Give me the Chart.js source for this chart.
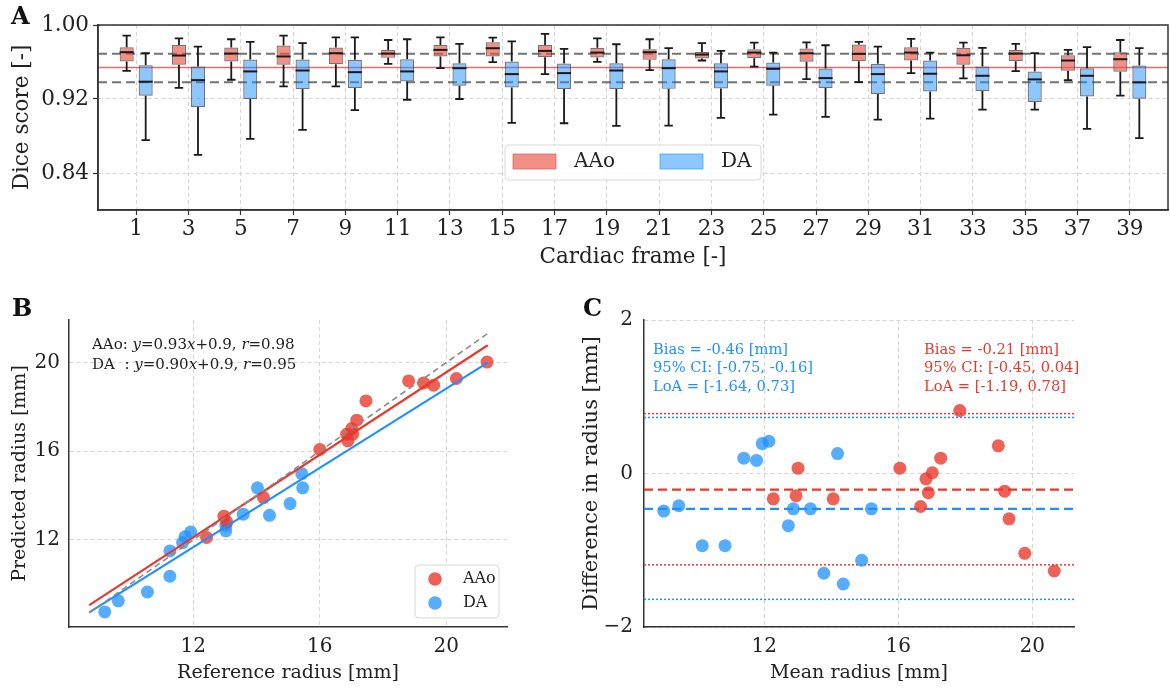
<!DOCTYPE html>
<html>
<head>
<meta charset="utf-8">
<title>Segmentation accuracy</title>
<script src="https://cdn.jsdelivr.net/npm/chart.js@4.4.1/dist/chart.umd.min.js"></script>
<style>
    body { margin: 0; background: #fff; width: 1170px; height: 688px; position: relative; overflow: hidden; }
    .panel { position: absolute; }
</style>
</head>
<body>
<div class="panel" style="left:0;top:0;width:1170px;height:275px"><canvas id="boxChart"></canvas></div>
<div class="panel" style="left:0;top:285px;width:575px;height:403px"><canvas id="regChart"></canvas></div>
<div class="panel" style="left:575px;top:285px;width:595px;height:403px"><canvas id="baChart"></canvas></div>

<script>
// ---- data: panel A (Dice per cardiac frame) ----
const frameLabels = ['1', '3', '5', '7', '9', '11', '13', '15', '17', '19',
    '21', '23', '25', '27', '29', '31', '33', '35', '37', '39'];

const aaoHigh = [0.9885, 0.9856, 0.9846, 0.9885, 0.9867, 0.9838, 0.9867, 0.9863, 0.9903, 0.9856,
    0.9846, 0.9803, 0.9810, 0.9813, 0.9817, 0.9849, 0.9810, 0.9796, 0.9731, 0.9838];
const aaoQ3 = [0.9760, 0.9785, 0.9756, 0.9778, 0.9756, 0.9731, 0.9785, 0.9813, 0.9785, 0.9753,
    0.9738, 0.9709, 0.9738, 0.9745, 0.9788, 0.9760, 0.9753, 0.9731, 0.9673, 0.9706];
const aaoMed = [0.9706, 0.9670, 0.9691, 0.9660, 0.9695, 0.9691, 0.9731, 0.9749, 0.9720, 0.9702,
    0.9706, 0.9680, 0.9702, 0.9695, 0.9688, 0.9702, 0.9673, 0.9691, 0.9616, 0.9630];
const aaoQ1 = [0.9605, 0.9570, 0.9605, 0.9570, 0.9577, 0.9645, 0.9659, 0.9659, 0.9652, 0.9648,
    0.9623, 0.9638, 0.9641, 0.9602, 0.9609, 0.9616, 0.9570, 0.9609, 0.9505, 0.9494];
const aaoLow = [0.9505, 0.9320, 0.9408, 0.9336, 0.9336, 0.9580, 0.9534, 0.9598, 0.9469, 0.9602,
    0.9512, 0.9616, 0.9551, 0.9415, 0.9383, 0.9480, 0.9422, 0.9501, 0.9404, 0.9236];

const daHigh = [0.9695, 0.9767, 0.9817, 0.9803, 0.9867, 0.9846, 0.9796, 0.9824, 0.9742, 0.9792,
    0.9749, 0.9720, 0.9702, 0.9781, 0.9767, 0.9702, 0.9753, 0.9695, 0.9760, 0.9749];
const daQ3 = [0.9566, 0.9551, 0.9627, 0.9627, 0.9623, 0.9630, 0.9587, 0.9605, 0.9584, 0.9587,
    0.9630, 0.9587, 0.9594, 0.9530, 0.9580, 0.9616, 0.9551, 0.9498, 0.9533, 0.9562];
const daMed = [0.9387, 0.9404, 0.9498, 0.9508, 0.9490, 0.9498, 0.9533, 0.9469, 0.9480, 0.9508,
    0.9533, 0.9498, 0.9526, 0.9426, 0.9469, 0.9473, 0.9451, 0.9412, 0.9451, 0.9380];
const daQ1 = [0.9236, 0.9113, 0.9200, 0.9307, 0.9320, 0.9390, 0.9343, 0.9325, 0.9307, 0.9307,
    0.9310, 0.9314, 0.9343, 0.9320, 0.9254, 0.9282, 0.9286, 0.9168, 0.9228, 0.9203];
const daLow = [0.8755, 0.8597, 0.8770, 0.8866, 0.9080, 0.9192, 0.9200, 0.8941, 0.8938, 0.8910,
    0.8912, 0.8995, 0.9031, 0.9006, 0.8977, 0.8988, 0.9085, 0.9085, 0.8877, 0.8776];

const diceUpperRef = 0.969;
const diceMidRef = 0.954;
const diceLowerRef = 0.938;
const diceTicks = [0.84, 0.92, 1.00];

// ---- data: panel B (predicted vs reference radius) ----
const aaoRef = [12.42, 12.97, 13.06, 14.22, 16.00, 16.85, 16.89, 17.01, 17.04, 17.17, 17.46, 18.81, 19.28, 19.60, 20.32, 21.29];
const aaoPred = [12.11, 13.07, 12.81, 13.91, 16.08, 16.77, 16.47, 17.02, 16.77, 17.40, 18.27, 19.17, 19.08, 18.98, 19.28, 20.02];
const daRef = [9.20, 9.63, 10.55, 11.26, 11.26, 11.66, 11.74, 11.92, 13.03, 13.03, 13.58, 14.03, 14.41, 15.06, 15.43, 15.46];
const daPred = [8.75, 9.25, 9.65, 10.36, 11.50, 11.88, 12.14, 12.36, 12.66, 12.41, 13.16, 14.35, 13.11, 13.64, 14.99, 14.35];

const fitX = [8.71, 21.31];
const aaoFitY = [9.06, 20.78];
const daFitY = [8.73, 20.00];
const identityY = [8.71, 21.31];
const radiusTicks = [12, 16, 20];

// ---- data: panel C (Bland-Altman) ----
const aaoMean = [13.01, 12.27, 12.95, 14.06, 16.05, 16.67, 16.83, 16.90, 17.02, 17.27, 17.84, 18.99, 19.18, 19.31, 19.78, 20.66];
const aaoDiff = [0.07, -0.33, -0.29, -0.33, 0.07, -0.43, -0.07, -0.25, 0.01, 0.20, 0.82, 0.36, -0.23, -0.59, -1.04, -1.27];
const daMean = [9.00, 9.45, 10.15, 10.83, 11.39, 11.77, 11.94, 12.14, 12.72, 12.87, 13.38, 14.19, 13.78, 14.36, 14.91, 15.20];
const daDiff = [-0.49, -0.42, -0.94, -0.94, 0.20, 0.17, 0.39, 0.42, -0.68, -0.46, -0.46, 0.26, -1.30, -1.44, -1.13, -0.46];

const aaoBias = -0.21, aaoLoA = [-1.19, 0.78];
const daBias = -0.46, daLoA = [-1.64, 0.73];
const diffTicks = [-2, 0, 2];

// ---- styling ----
const FONT = "'DejaVu Serif', serif";
const RED = '#e8392d';
const BLUE = '#1e90ff';
const RED_PT = 'rgba(232, 57, 45, 0.8)';
const BLUE_PT = 'rgba(30, 144, 255, 0.75)';
const AAO_BOX = 'rgba(235, 85, 72, 0.65)';
const DA_BOX = 'rgba(30, 144, 255, 0.5)';
const GRID = '#d4d4d4';
const SPINE = '#333';
const SIZE_A = 21.5;
const SIZE_BC = 19;
const NOTE_SIZE = 14.7;

Chart.defaults.font.family = FONT;
Chart.defaults.font.size = 20;
Chart.defaults.color = '#222';
Chart.defaults.animation = false;

function fixedTicks(values) {
    return scale => { scale.ticks = values.map(v => ({ value: v })); };
}

function hline(y, x0, x1) {
    return [{ x: x0, y: y }, { x: x1, y: y }];
}

function points(xs, ys) {
    return xs.map((x, i) => ({ x: x, y: ys[i] }));
}

const panelLabel = {
    id: 'panelLabel',
    afterDraw(chart, args, opts) {
        const ctx = chart.ctx;
        ctx.save();
        ctx.font = 'bold 24px ' + FONT;
        ctx.fillStyle = '#111';
        ctx.fillText(opts.text, opts.x, opts.y);
        ctx.restore();
    }
};

// whiskers, caps and medians on top of the floating bars
const boxWhiskers = {
    id: 'boxWhiskers',
    afterDatasetsDraw(chart) {
        const ctx = chart.ctx;
        const yScale = chart.scales.y;
        ctx.save();
        ctx.strokeStyle = '#1a1a1a';
        chart.data.datasets.forEach((ds, di) => {
            if (!ds.whiskers) return;
            const w = ds.whiskers;
            chart.getDatasetMeta(di).data.forEach((bar, i) => {
                const half = bar.width / 2;
                const cap = bar.width * 0.3;
                const yLo = yScale.getPixelForValue(w.low[i]);
                const yHi = yScale.getPixelForValue(w.high[i]);
                const yQ1 = yScale.getPixelForValue(w.q1[i]);
                const yQ3 = yScale.getPixelForValue(w.q3[i]);
                const yMed = yScale.getPixelForValue(w.med[i]);
                ctx.lineWidth = 1.8;
                ctx.beginPath();
                ctx.moveTo(bar.x, yQ1); ctx.lineTo(bar.x, yLo);
                ctx.moveTo(bar.x, yQ3); ctx.lineTo(bar.x, yHi);
                ctx.moveTo(bar.x - cap, yLo); ctx.lineTo(bar.x + cap, yLo);
                ctx.moveTo(bar.x - cap, yHi); ctx.lineTo(bar.x + cap, yHi);
                ctx.stroke();
                ctx.lineWidth = 2;
                ctx.beginPath();
                ctx.moveTo(bar.x - half, yMed); ctx.lineTo(bar.x + half, yMed);
                ctx.stroke();
            });
        });
        ctx.restore();
    }
};

const boxFrameLegend = {
    id: 'boxFrameLegend',
    afterDraw(chart) {
        const { ctx, chartArea: a } = chart;
        ctx.save();
        ctx.strokeStyle = SPINE;
        ctx.lineWidth = 1.5;
        ctx.strokeRect(a.left, a.top, a.right - a.left, a.bottom - a.top);

        const w = 256, h = 35;
        const x0 = (a.left + a.right) / 2 - w / 2;
        const y0 = a.bottom - 30 - h;
        ctx.beginPath();
        ctx.roundRect(x0, y0, w, h, 4);
        ctx.fillStyle = 'rgba(255,255,255,0.85)';
        ctx.fill();
        ctx.strokeStyle = '#d8d8d8';
        ctx.lineWidth = 1;
        ctx.stroke();

        const entries = [['AAo', AAO_BOX, 'rgba(220,70,60,0.6)', 8], ['DA', DA_BOX, 'rgba(30,144,255,0.6)', 155]];
        ctx.font = '20px ' + FONT;
        ctx.textBaseline = 'middle';
        entries.forEach(([label, fill, edge, dx]) => {
            ctx.fillStyle = fill;
            ctx.fillRect(x0 + dx, y0 + 9, 43, 15);
            ctx.strokeStyle = edge;
            ctx.strokeRect(x0 + dx, y0 + 9, 43, 15);
            ctx.fillStyle = '#222';
            ctx.fillText(label, x0 + dx + 61, y0 + 17);
        });
        ctx.restore();
    }
};

function drawRich(ctx, parts, x, y, size) {
    parts.forEach(([txt, italic]) => {
        ctx.font = (italic ? 'italic ' : '') + size + 'px ' + FONT;
        ctx.fillText(txt, x, y);
        x += ctx.measureText(txt).width;
    });
}

const regNotes = {
    id: 'regNotes',
    afterDraw(chart) {
        const ctx = chart.ctx;
        ctx.save();
        ctx.fillStyle = '#222';
        drawRich(ctx, [['AAo: ', false], ['y', true], ['=0.93', false], ['x', true],
            ['+0.9, ', false], ['r', true], ['=0.98', false]], 92, 64, 15);
        drawRich(ctx, [['DA  : ', false], ['y', true], ['=0.90', false], ['x', true],
            ['+0.9, ', false], ['r', true], ['=0.95', false]], 92, 84, 15);

        // legend box lower right
        ctx.beginPath();
        ctx.roundRect(415, 280, 84, 53, 4);
        ctx.fillStyle = 'rgba(255,255,255,0.85)';
        ctx.fill();
        ctx.strokeStyle = '#d8d8d8';
        ctx.lineWidth = 1;
        ctx.stroke();
        ctx.font = '16px ' + FONT;
        ctx.textBaseline = 'middle';
        [['AAo', RED_PT, 294], ['DA', BLUE_PT, 318]].forEach(([label, color, cy]) => {
            ctx.beginPath();
            ctx.arc(435, cy, 6.8, 0, Math.PI * 2);
            ctx.fillStyle = color;
            ctx.fill();
            ctx.fillStyle = '#222';
            ctx.fillText(label, 463, cy);
        });
        ctx.restore();
    }
};

const baNotes = {
    id: 'baNotes',
    afterDraw(chart) {
        const ctx = chart.ctx;
        ctx.save();
        ctx.font = NOTE_SIZE + 'px ' + FONT;
        const blueLines = ['Bias = -0.46 [mm]', '95% CI: [-0.75, -0.16]', 'LoA = [-1.64, 0.73]'];
        const redLines = ['Bias = -0.21 [mm]', '95% CI: [-0.45, 0.04]', 'LoA = [-1.19, 0.78]'];
        ctx.fillStyle = BLUE;
        blueLines.forEach((t, i) => ctx.fillText(t, 78, 69 + i * 18.3));
        ctx.fillStyle = RED;
        redLines.forEach((t, i) => ctx.fillText(t, 349, 69 + i * 18.3));
        ctx.restore();
    }
};

// ---- panel A ----
const frameMin = -0.73, frameMax = frameLabels.length - 1 + 0.73;
const fontA = { size: SIZE_A };

new Chart(document.getElementById('boxChart'), {
    type: 'bar',
    data: {
        datasets: [
            {
                label: 'AAo',
                data: frameLabels.map((_, i) => ({ x: i, y: [aaoQ1[i], aaoQ3[i]] })),
                whiskers: { low: aaoLow, q1: aaoQ1, med: aaoMed, q3: aaoQ3, high: aaoHigh },
                backgroundColor: AAO_BOX,
                borderColor: 'rgba(70,70,70,0.75)',
                borderWidth: 1.2,
                borderSkipped: false,
                categoryPercentage: 0.727,
                barPercentage: 0.74,
                order: 1
            },
            {
                label: 'DA',
                data: frameLabels.map((_, i) => ({ x: i, y: [daQ1[i], daQ3[i]] })),
                whiskers: { low: daLow, q1: daQ1, med: daMed, q3: daQ3, high: daHigh },
                backgroundColor: DA_BOX,
                borderColor: 'rgba(70,70,70,0.75)',
                borderWidth: 1.2,
                borderSkipped: false,
                categoryPercentage: 0.727,
                barPercentage: 0.74,
                order: 1
            },
            {
                type: 'line', data: hline(diceMidRef, frameMin, frameMax),
                borderColor: 'rgba(214,60,60,0.75)', borderWidth: 1.6, pointRadius: 0, order: 2
            },
            {
                type: 'line', data: hline(diceUpperRef, frameMin, frameMax),
                borderColor: 'rgba(80,80,80,0.8)', borderWidth: 2, borderDash: [9, 5], pointRadius: 0, order: 2
            },
            {
                type: 'line', data: hline(diceLowerRef, frameMin, frameMax),
                borderColor: 'rgba(80,80,80,0.8)', borderWidth: 2, borderDash: [9, 5], pointRadius: 0, order: 2
            }
        ]
    },
    options: {
        responsive: true,
        maintainAspectRatio: false,
        layout: { padding: { top: 25, right: 2, left: 0, bottom: 0 } },
        plugins: {
            legend: { display: false },
            tooltip: { enabled: false },
            panelLabel: { text: 'A', x: 11, y: 24 }
        },
        scales: {
            x: {
                type: 'linear',
                offset: false,
                min: frameMin,
                max: frameMax,
                afterBuildTicks: fixedTicks(frameLabels.map((_, i) => i)),
                afterFit: s => { s.height = 65; },
                ticks: { callback: v => frameLabels[v], autoSkip: false, maxRotation: 0, padding: 2, font: fontA },
                grid: { offset: false, color: GRID, lineWidth: 1, tickColor: SPINE, tickLength: 5, tickWidth: 1.2, tickBorderDash: [] },
                border: { color: SPINE, width: 1.5, dash: [4, 3] },
                title: { display: true, text: 'Cardiac frame [-]', font: fontA, padding: { top: 0, bottom: 5 } }
            },
            y: {
                min: 0.80,
                max: 1.00,
                afterBuildTicks: fixedTicks(diceTicks),
                afterFit: s => { s.width = 98; },
                ticks: { callback: v => v.toFixed(2), padding: 4, font: fontA },
                grid: { color: GRID, lineWidth: 1, tickColor: SPINE, tickLength: 5, tickWidth: 1.2, tickBorderDash: [] },
                border: { color: SPINE, width: 1.5, dash: [4, 3] },
                title: { display: true, text: 'Dice score [-]', font: fontA, padding: { top: 10, bottom: 0 } }
            }
        }
    },
    plugins: [boxWhiskers, boxFrameLegend, panelLabel]
});

// ---- panel B ----
const titleBC = { size: SIZE_BC };

new Chart(document.getElementById('regChart'), {
    type: 'scatter',
    data: {
        datasets: [
            { label: 'AAo', data: points(aaoRef, aaoPred), backgroundColor: RED_PT, borderWidth: 0, pointRadius: 6.5, order: 2 },
            { label: 'DA', data: points(daRef, daPred), backgroundColor: BLUE_PT, borderWidth: 0, pointRadius: 6.5, order: 2 },
            {
                type: 'line', data: points(fitX, identityY), borderColor: '#8a8a8a',
                borderWidth: 1.6, borderDash: [6, 4], pointRadius: 0, order: 1
            },
            { type: 'line', data: points(fitX, aaoFitY), borderColor: RED, borderWidth: 2.2, pointRadius: 0, order: 1 },
            { type: 'line', data: points(fitX, daFitY), borderColor: BLUE, borderWidth: 2.2, pointRadius: 0, order: 1 }
        ]
    },
    options: {
        responsive: true,
        maintainAspectRatio: false,
        layout: { padding: { top: 35, right: 68, left: 0, bottom: 0 } },
        plugins: {
            legend: { display: false },
            tooltip: { enabled: false },
            panelLabel: { text: 'B', x: 12, y: 31 }
        },
        scales: {
            x: {
                min: 8.07,
                max: 21.92,
                afterBuildTicks: fixedTicks(radiusTicks),
                afterFit: s => { s.height = 61; },
                ticks: { padding: 8 },
                grid: { color: GRID, drawTicks: false },
                border: { color: SPINE, width: 1.5, dash: [4, 3] },
                title: { display: true, text: 'Reference radius [mm]', font: titleBC, padding: { top: 0, bottom: 4 } }
            },
            y: {
                min: 8.07,
                max: 21.92,
                afterBuildTicks: fixedTicks(radiusTicks),
                afterFit: s => { s.width = 69; },
                ticks: { padding: 9 },
                grid: { color: GRID, drawTicks: false },
                border: { color: SPINE, width: 1.5, dash: [4, 3] },
                title: { display: true, text: 'Predicted radius [mm]', font: titleBC, padding: { top: 9, bottom: 0 } }
            }
        }
    },
    plugins: [regNotes, panelLabel]
});

// ---- panel C ----
const meanMin = 8.41, meanMax = 21.25;

new Chart(document.getElementById('baChart'), {
    type: 'scatter',
    data: {
        datasets: [
            { label: 'DA', data: points(daMean, daDiff), backgroundColor: BLUE_PT, borderWidth: 0, pointRadius: 6.5, order: 1 },
            { label: 'AAo', data: points(aaoMean, aaoDiff), backgroundColor: RED_PT, borderWidth: 0, pointRadius: 6.5, order: 1 },
            { type: 'line', data: hline(aaoBias, meanMin, meanMax), borderColor: RED, borderWidth: 2.2, borderDash: [9, 5], pointRadius: 0, order: 2 },
            { type: 'line', data: hline(daBias, meanMin, meanMax), borderColor: BLUE, borderWidth: 2.2, borderDash: [9, 5], pointRadius: 0, order: 2 },
            { type: 'line', data: hline(aaoLoA[1], meanMin, meanMax), borderColor: RED, borderWidth: 1.5, borderDash: [2, 2], pointRadius: 0, order: 2 },
            { type: 'line', data: hline(aaoLoA[0], meanMin, meanMax), borderColor: RED, borderWidth: 1.5, borderDash: [2, 2], pointRadius: 0, order: 2 },
            { type: 'line', data: hline(daLoA[1], meanMin, meanMax), borderColor: BLUE, borderWidth: 1.5, borderDash: [2, 2], pointRadius: 0, order: 2 },
            { type: 'line', data: hline(daLoA[0], meanMin, meanMax), borderColor: BLUE, borderWidth: 1.5, borderDash: [2, 2], pointRadius: 0, order: 2 }
        ]
    },
    options: {
        responsive: true,
        maintainAspectRatio: false,
        layout: { padding: { top: 35, right: 96, left: 0, bottom: 0 } },
        plugins: {
            legend: { display: false },
            tooltip: { enabled: false },
            panelLabel: { text: 'C', x: 8, y: 31 }
        },
        scales: {
            x: {
                min: meanMin,
                max: meanMax,
                afterBuildTicks: fixedTicks(radiusTicks),
                afterFit: s => { s.height = 61; },
                ticks: { padding: 8 },
                grid: { color: GRID, drawTicks: false },
                border: { color: SPINE, width: 1.5, dash: [4, 3] },
                title: { display: true, text: 'Mean radius [mm]', font: titleBC, padding: { top: 0, bottom: 4 } }
            },
            y: {
                min: -2,
                max: 2,
                afterBuildTicks: fixedTicks(diffTicks),
                afterFit: s => { s.width = 69; },
                ticks: { padding: 11, callback: v => (v < 0 ? '\u2212' + Math.abs(v) : String(v)) },
                grid: { color: GRID, drawTicks: false },
                border: { color: SPINE, width: 1.5, dash: [4, 3] },
                title: { display: true, text: 'Difference in radius [mm]', font: { size: 21 }, padding: { top: 4, bottom: 0 } }
            }
        }
    },
    plugins: [baNotes, panelLabel]
});
</script>
</body>
</html>
